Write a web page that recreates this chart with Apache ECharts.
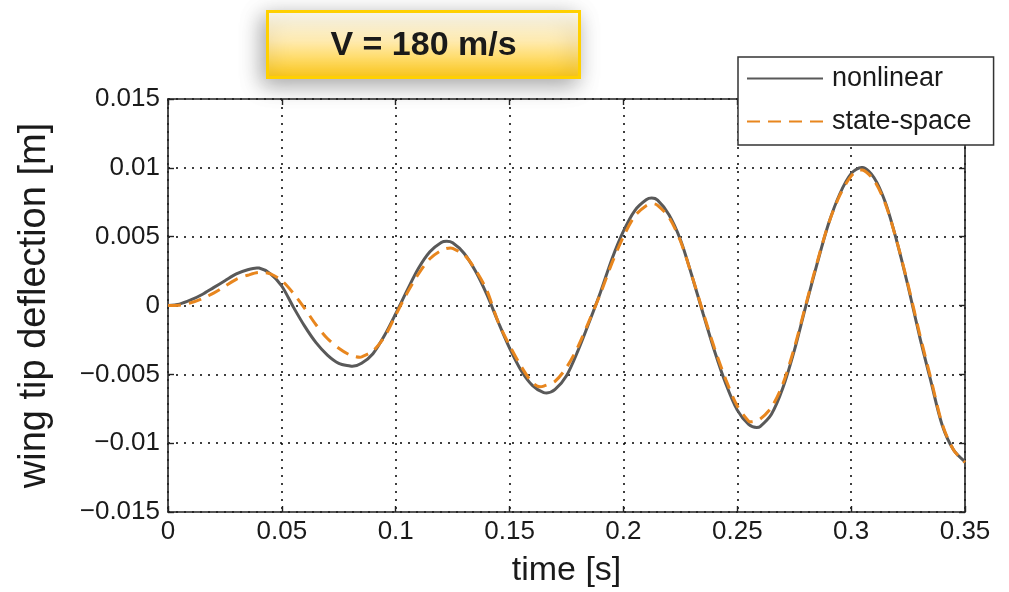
<!DOCTYPE html>
<html>
<head>
<meta charset="utf-8">
<script src="https://cdn.jsdelivr.net/npm/echarts@6/dist/echarts.min.js"></script>
<style>
  html, body { margin: 0; padding: 0; background: #fff; }
  #main { width: 1009px; height: 592px; }
</style>
</head>
<body>
<div id="main"></div>
<script>
// nonlinear model: time [s] and wing tip deflection [m]
var timeNonlinear = [0, 0.005, 0.01, 0.015, 0.02, 0.025, 0.03, 0.035, 0.039, 0.04, 0.045,
  0.05, 0.055, 0.06, 0.065, 0.07, 0.075, 0.08, 0.081, 0.085, 0.09, 0.095,
  0.1, 0.105, 0.11, 0.115, 0.12, 0.1224, 0.125, 0.13, 0.135, 0.14, 0.145,
  0.15, 0.155, 0.16, 0.165, 0.1663, 0.17, 0.175, 0.18, 0.185, 0.19, 0.195,
  0.2, 0.205, 0.21, 0.2124, 0.215, 0.22, 0.225, 0.23, 0.235, 0.24, 0.245,
  0.25, 0.255, 0.2585, 0.26, 0.265, 0.27, 0.275, 0.28, 0.285, 0.29, 0.295,
  0.3, 0.3046, 0.305, 0.31, 0.315, 0.32, 0.325, 0.33, 0.335, 0.34, 0.345, 0.35];
var nonlinear = [0, 0.0001, 0.0004, 0.0008, 0.0013, 0.0018, 0.0023, 0.0026, 0.00273, 0.00272, 0.0023,
  0.0014, -0.0001, -0.0015, -0.0027, -0.0036, -0.0042, -0.0044, -0.00442, -0.0042, -0.0035, -0.0022,
  -0.0006, 0.0011, 0.0027, 0.0039, 0.00458, 0.00466, 0.00456, 0.0038, 0.0025, 0.0008, -0.0012,
  -0.0031, -0.0047, -0.0058, -0.00633, -0.00635, -0.0061, -0.0051, -0.0033, -0.0012, 0.0010, 0.0034,
  0.0054, 0.0069, 0.00768, 0.0078, 0.00766, 0.0066, 0.0048, 0.0022, -0.0006, -0.0033, -0.0057,
  -0.0076, -0.00864, -0.00886, -0.0088, -0.0079, -0.0060, -0.0033, -0.0001, 0.0030, 0.0059, 0.0081,
  0.00958, 0.01002, 0.01002, 0.0093, 0.0075, 0.0047, 0.0014, -0.0022, -0.0055, -0.0087, -0.0105, -0.01135];

// state-space model
var timeStateSpace = [0, 0.005, 0.01, 0.015, 0.02, 0.025, 0.03, 0.035, 0.04, 0.045,
  0.05, 0.055, 0.06, 0.065, 0.07, 0.075, 0.08, 0.0843, 0.085, 0.09, 0.095,
  0.1, 0.105, 0.11, 0.115, 0.12, 0.124, 0.125, 0.13, 0.135, 0.14, 0.145,
  0.15, 0.155, 0.16, 0.1634, 0.165, 0.17, 0.175, 0.18, 0.185, 0.19, 0.195,
  0.2, 0.205, 0.21, 0.213, 0.215, 0.22, 0.225, 0.23, 0.235, 0.24, 0.245,
  0.25, 0.255, 0.2563, 0.26, 0.265, 0.27, 0.275, 0.28, 0.285, 0.29, 0.295,
  0.3, 0.304, 0.305, 0.31, 0.315, 0.32, 0.325, 0.33, 0.335, 0.34, 0.345, 0.35];
var stateSpace = [0, 0.00002, 0.0002, 0.0005, 0.0009, 0.0014, 0.0019, 0.0022, 0.0024, 0.0023,
  0.0018, 0.0009, -0.0002, -0.0014, -0.0024, -0.0031, -0.0036, -0.00376, -0.00374, -0.0033, -0.0023,
  -0.0007, 0.0009, 0.0023, 0.0034, 0.0040, 0.00418, 0.00415, 0.0037, 0.0026, 0.0011, -0.0012,
  -0.0029, -0.0044, -0.0056, -0.0059, -0.00585, -0.0055, -0.0045, -0.0030, -0.0011, 0.0009, 0.0031,
  0.0050, 0.0065, 0.00725, 0.0074, 0.00728, 0.0064, 0.0047, 0.0022, -0.0005, -0.0031, -0.0054,
  -0.0073, -0.0084, -0.00845, -0.00825, -0.0074, -0.0057, -0.0031, 0.0000, 0.0031, 0.0059, 0.0080,
  0.0094, 0.00985, 0.00984, 0.0091, 0.0074, 0.0047, 0.0015, -0.0020, -0.0053, -0.0086, -0.0105, -0.0114];

var xTickLabels = ['0', '0.05', '0.1', '0.15', '0.2', '0.25', '0.3', '0.35'];
var yTickLabels = ['\u22120.015', '\u22120.01', '\u22120.005', '0', '0.005', '0.01', '0.015'];

var titleText = 'V = 180 m/s';
var FONT = '"Liberation Sans", Arial, Helvetica, sans-serif';

function pairs(xs, ys) {
  return xs.map(function (x, i) { return [x, ys[i]]; });
}

var chart = echarts.init(document.getElementById('main'), null, { renderer: 'canvas' });

var gridDots = { show: true, lineStyle: { color: '#000', width: 1.5, type: [2, 6] } };
var frameLine = { show: true, onZero: false, lineStyle: { color: '#222', width: 1.6 } };
var innerTick = { show: true, inside: true, length: 6, lineStyle: { color: '#222', width: 1.4 } };

var option = {
  backgroundColor: '#fff',
  animation: false,
  textStyle: { fontFamily: FONT },
  grid: {
    left: 168, right: 44, top: 99, bottom: 80,
    containLabel: false,
    outerBoundsMode: 'none'
  },
  legend: {
    orient: 'vertical',
    left: 738, top: 57,
    padding: [8, 22, 10, 8],
    itemWidth: 76, itemHeight: 14, itemGap: 16,
    backgroundColor: '#fff',
    borderColor: '#333', borderWidth: 1.5, borderRadius: 0,
    itemStyle: { opacity: 0 },
    textStyle: { fontSize: 27, color: '#1a1a1a', fontFamily: FONT, padding: [0, 0, 0, 4] },
    data: ['nonlinear', 'state-space'],
    z: 10
  },
  xAxis: [{
    type: 'value', min: 0, max: 0.35, interval: 0.05,
    name: 'time [s]', nameLocation: 'middle', nameGap: 42,
    nameTextStyle: { fontSize: 34, color: '#1a1a1a', fontFamily: FONT },
    axisLine: frameLine, axisTick: innerTick,
    axisLabel: {
      fontSize: 26, color: '#1a1a1a', margin: 7, fontFamily: FONT,
      formatter: function (v) { return xTickLabels[Math.round(v / 0.05)]; }
    },
    splitLine: gridDots
  }, {
    type: 'value', min: 0, max: 0.35, interval: 0.05, position: 'top',
    axisLine: frameLine, axisTick: innerTick,
    axisLabel: { show: false }, splitLine: { show: false }
  }],
  yAxis: [{
    type: 'value', min: -0.015, max: 0.015, interval: 0.005,
    name: 'wing tip deflection [m]', nameLocation: 'middle', nameGap: 114, nameRotate: 90,
    nameTextStyle: { fontSize: 38, color: '#1a1a1a', fontFamily: FONT },
    axisLine: frameLine, axisTick: innerTick,
    axisLabel: {
      fontSize: 26, color: '#1a1a1a', margin: 8, fontFamily: FONT,
      formatter: function (v) { return yTickLabels[Math.round((v + 0.015) / 0.005)]; }
    },
    splitLine: gridDots
  }, {
    type: 'value', min: -0.015, max: 0.015, interval: 0.005, position: 'right',
    axisLine: frameLine, axisTick: innerTick,
    axisLabel: { show: false }, splitLine: { show: false }
  }],
  series: [{
    name: 'nonlinear',
    type: 'line',
    xAxisIndex: 0, yAxisIndex: 0,
    data: pairs(timeNonlinear, nonlinear),
    smooth: 0.3,
    symbol: 'none',
    lineStyle: { color: '#595959', width: 3 },
    itemStyle: { color: '#595959' },
    z: 3
  }, {
    name: 'state-space',
    type: 'line',
    xAxisIndex: 0, yAxisIndex: 0,
    data: pairs(timeStateSpace, stateSpace),
    smooth: 0.3,
    symbol: 'none',
    lineStyle: { color: '#E8861E', width: 3, type: [13, 8] },
    itemStyle: { color: '#E8861E' },
    z: 4
  }],
  graphic: [{
    type: 'group',
    left: 266, top: 10,
    z: 20,
    children: [{
      type: 'rect',
      shape: { x: 0, y: 0, width: 312, height: 66 },
      style: {
        fill: new echarts.graphic.LinearGradient(0, 0, 0, 1, [
          { offset: 0, color: '#FFFEF8' },
          { offset: 0.45, color: '#FFEBB0' },
          { offset: 1, color: '#FFC914' }
        ]),
        stroke: '#FFD000',
        lineWidth: 3,
        shadowBlur: 22,
        shadowColor: 'rgba(0,0,0,0.35)',
        shadowOffsetX: -4,
        shadowOffsetY: 6
      }
    }, {
      type: 'text',
      x: 156, y: 34,
      style: {
        text: titleText,
        fontSize: 34,
        fontWeight: 'bold',
        fontFamily: FONT,
        fill: '#1a1a1a',
        align: 'center',
        verticalAlign: 'middle'
      }
    }]
  }]
};

chart.setOption(option);
</script>
</body>
</html>
